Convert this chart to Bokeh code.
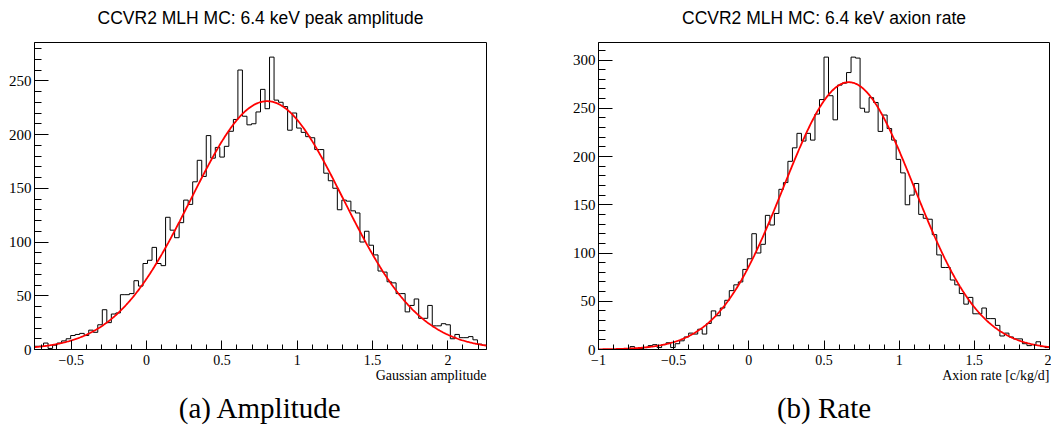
import numpy as np
from bokeh.plotting import figure
from bokeh.layouts import row
from bokeh.models import FixedTicker, Title, Range1d
from bokeh.embed import file_html
from bokeh.resources import INLINE

# ---------------- data ----------------
amp_title = "CCVR2 MLH MC: 6.4 keV peak amplitude"
rate_title = "CCVR2 MLH MC: 6.4 keV axion rate"
amp_xlabel = "Gaussian amplitude"
rate_xlabel = "Axion rate [c/kg/d]"
amp_caption = "(a) Amplitude"
rate_caption = "(b) Rate"

amp_range = (-0.744, 2.256)
rate_range = (-1.0, 2.0)

amp_counts = [3, 3, 6, 1, 4, 6, 8, 10, 13, 14,
              15, 13, 18, 16, 23, 37, 25, 33, 34, 51,
              51, 52, 64, 59, 80, 83, 95, 80, 78, 123,
              111, 104, 118, 139, 135, 156, 176, 161, 199, 178,
              188, 179, 189, 203, 214, 260, 217, 209, 210, 221,
              242, 224, 272, 232, 230, 226, 204, 220, 206, 202,
              198, 197, 186, 186, 164, 157, 150, 130, 139, 138,
              129, 127, 100, 110, 97, 88, 73, 72, 63, 62,
              52, 52, 35, 41, 47, 29, 29, 41, 22, 22,
              24, 23, 10, 14, 11, 11, 12, 9, 5, 4]

rate_counts = [0, 0, 0, 0, 0, 1, 0, 3, 1, 1,
               2, 4, 5, 2, 5, 7, 2, 6, 9, 13,
               17, 16, 21, 16, 27, 40, 35, 43, 51, 61,
               67, 70, 83, 94, 120, 100, 109, 139, 129, 141,
               166, 173, 195, 209, 224, 216, 224, 217, 244, 259,
               303, 263, 238, 274, 276, 287, 303, 302, 250, 246,
               261, 256, 226, 243, 229, 217, 197, 183, 150, 160,
               172, 140, 136, 135, 119, 98, 85, 85, 72, 67,
               58, 47, 54, 37, 37, 43, 32, 32, 25, 14,
               17, 13, 11, 11, 6, 4, 5, 8, 3, 2]

# Gaussian fit parameters (constant, mean, sigma)
amp_fit = (231.0, 0.80, 0.505)
rate_fit = (277.0, 0.665, 0.435)

amp_xticks = [-0.5, 0, 0.5, 1, 1.5, 2]
amp_xtick_labels = ["\u22120.5", "0", "0.5", "1", "1.5", "2"]
rate_xticks = [-1, -0.5, 0, 0.5, 1, 1.5, 2]
rate_xtick_labels = ["\u22121", "\u22120.5", "0", "0.5", "1", "1.5", "2"]
amp_yticks = [0, 50, 100, 150, 200, 250]
rate_yticks = [0, 50, 100, 150, 200, 250, 300]

# ---------------- styling ----------------
SERIF = "Liberation Serif"
SANS = "Liberation Sans"


def panel(counts, xr, fit, title, xlabel, caption, xticks, xlabels, yticks,
          left, right, fw):
    counts = np.asarray(counts, dtype=float)
    nb = len(counts)
    edges = np.linspace(xr[0], xr[1], nb + 1)
    ymax = 1.05 * counts.max()

    p = figure(output_backend="svg", toolbar_location=None, title=None,
               frame_width=fw, frame_height=307,
               min_border_left=left, min_border_right=right,
               min_border_top=42, min_border_bottom=81,
               x_range=Range1d(*xr), y_range=Range1d(0, ymax),
               background_fill_color="white", border_fill_color="white")
    p.outline_line_color = "black"
    p.outline_line_width = 1
    p.grid.visible = False

    # spacer between frame and title, then the title itself
    p.add_layout(Title(text=" ", text_font_size="1px", standoff=12), "above")
    p.add_layout(Title(text=title, align="center", text_font=SANS,
                       text_font_size="17.5px", text_font_style="normal",
                       text_color="black", standoff=0), "above")

    # histogram outline
    p.step(x=edges, y=np.append(counts, counts[-1]), mode="after",
           line_color="black", line_width=1)

    # Gaussian fit
    xs = np.linspace(xr[0], xr[1], 600)
    a, mu, sg = fit
    p.line(xs, a * np.exp(-0.5 * ((xs - mu) / sg) ** 2),
           line_color="#ff0000", line_width=1.8)

    # x axis
    xa = p.xaxis[0]
    minor_x = [round(v, 2) for v in np.arange(-1.0, 2.31, 0.1)
               if xr[0] <= v <= xr[1]]
    xa.ticker = FixedTicker(ticks=xticks, minor_ticks=minor_x)
    xa.major_label_overrides = {t: l for t, l in zip(xticks, xlabels)}
    xa.major_tick_in = 9
    xa.major_tick_out = 0
    xa.minor_tick_in = 5
    xa.minor_tick_out = 0
    xa.major_label_standoff = 5
    xa.major_label_text_font = SERIF
    xa.major_label_text_font_size = "14px"
    xa.major_label_text_color = "black"
    xa.axis_line_color = "black"
    xa.major_tick_line_color = "black"
    xa.minor_tick_line_color = "black"

    # y axis
    ya = p.yaxis[0]
    ya.ticker = FixedTicker(ticks=yticks,
                            minor_ticks=list(range(0, int(ymax) + 1, 10)))
    ya.major_tick_in = 14
    ya.major_tick_out = 0
    ya.minor_tick_in = 7
    ya.minor_tick_out = 0
    ya.major_label_standoff = 3
    ya.major_label_text_font = SERIF
    ya.major_label_text_font_size = "15px"
    ya.major_label_text_color = "black"
    ya.axis_line_color = "black"
    ya.major_tick_line_color = "black"
    ya.minor_tick_line_color = "black"

    # axis title (right aligned, ROOT style)
    p.add_layout(Title(text=xlabel, align="right", text_font=SERIF,
                       text_font_size="14px", text_font_style="normal",
                       text_color="black", standoff=-3, offset=0), "below")
    # caption
    p.add_layout(Title(text=caption, align="center", text_font=SERIF,
                       text_font_size="29px", text_font_style="normal",
                       text_color="black", standoff=16), "below")
    return p


p1 = panel(amp_counts, amp_range, amp_fit, amp_title, amp_xlabel, amp_caption,
           amp_xticks, amp_xtick_labels, amp_yticks, left=34, right=74, fw=452)
p2 = panel(rate_counts, rate_range, rate_fit, rate_title, rate_xlabel,
           rate_caption, rate_xticks, rate_xtick_labels, rate_yticks,
           left=38, right=2, fw=451)

layout = row(p1, p2)
open("out.html", "w").write(file_html(layout, INLINE))
